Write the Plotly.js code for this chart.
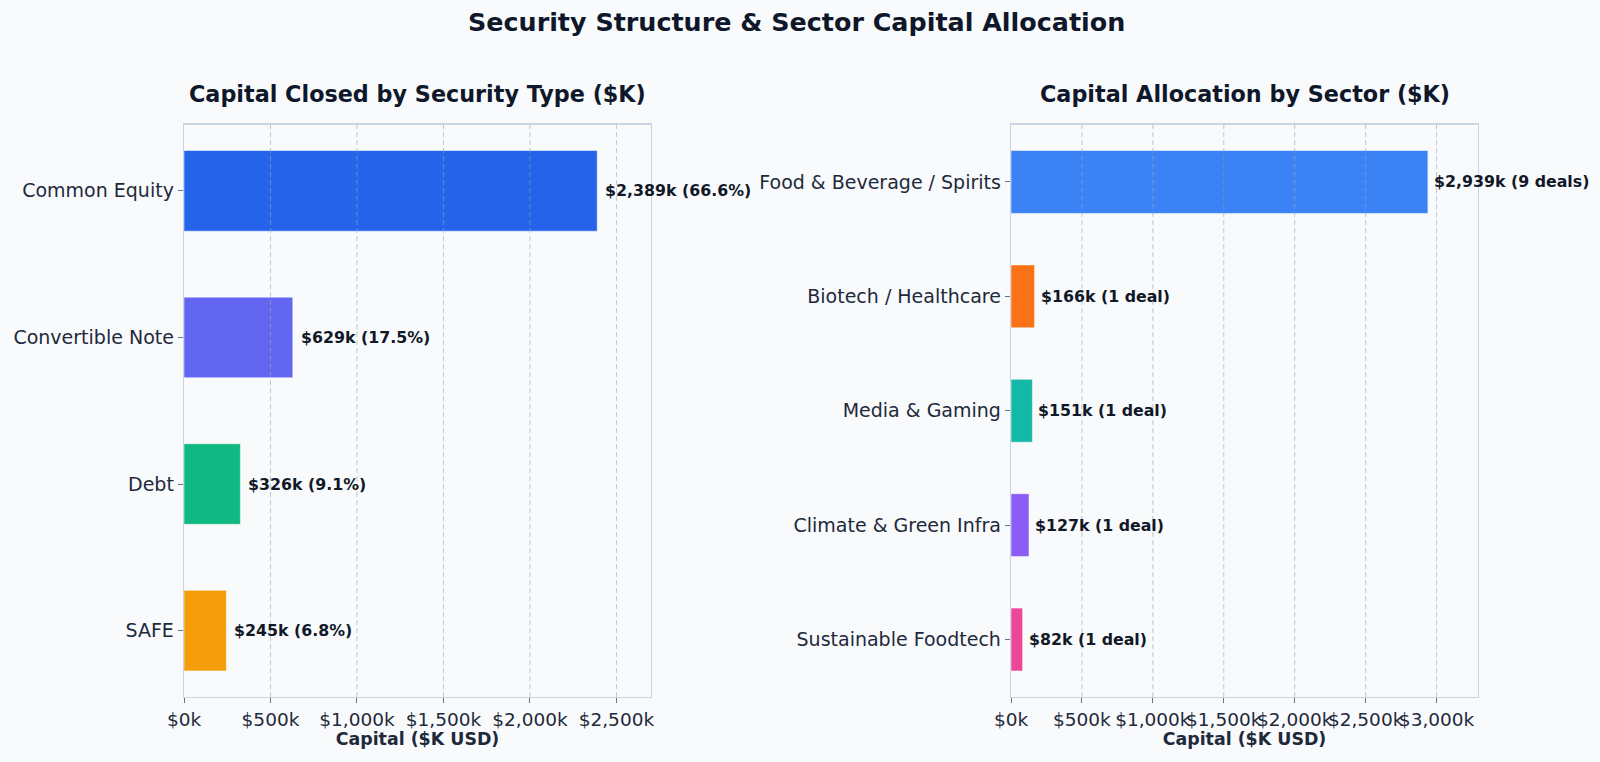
<!DOCTYPE html>
<html><head><meta charset="utf-8">
<script src="https://cdn.plot.ly/plotly-3.0.1.min.js"></script>
<style>html,body{margin:0;padding:0;background:#f8fafc;}#c{width:1600px;height:762px;}</style>
</head><body><div id="c"></div>
<script>
// Data
const secTypes = ["Common Equity", "Convertible Note", "Debt", "SAFE"];
const secValues = [2389, 629, 326, 245];
const secPct = ["66.6%", "17.5%", "9.1%", "6.8%"];
const secColors = ["#2563eb", "#6366f1", "#10b981", "#f59e0b"];

const sectors = ["Food & Beverage / Spirits", "Biotech / Healthcare", "Media & Gaming", "Climate & Green Infra", "Sustainable Foodtech"];
const sectorValues = [2939, 166, 151, 127, 82];
const sectorDeals = [9, 1, 1, 1, 1];
const sectorColors = ["#3b82f6", "#f97316", "#14b8a6", "#8b5cf6", "#ec4899"];

const xTicks1 = [0, 500, 1000, 1500, 2000, 2500];
const xTicks2 = [0, 500, 1000, 1500, 2000, 2500, 3000];

const fmt = v => "$" + v.toLocaleString("en-US") + "k";
const FONT = "DejaVu Sans, sans-serif";
const gridColor = "rgba(148,163,184,0.6)";
const W = 1600, H = 762;
const yDom = [65 / H, 637.5 / H];
const xDom1 = [184 / W, 651 / W];
const xDom2 = [1011 / W, 1478 / W];

const traces = [
  {type: "bar", orientation: "h", x: secValues, y: secTypes, xaxis: "x", yaxis: "y",
   width: 0.55, marker: {color: secColors, line: {color: "rgba(255,255,255,0.5)", width: 1}},
   hoverinfo: "x+y", showlegend: false},
  {type: "bar", orientation: "h", x: sectorValues, y: sectors, xaxis: "x2", yaxis: "y2",
   width: 0.55, marker: {color: sectorColors, line: {color: "rgba(255,255,255,0.5)", width: 1}},
   hoverinfo: "x+y", showlegend: false}
];

const annotations = [];
annotations.push({text: "<b>Security Structure & Sector Capital Allocation</b>", xref: "paper", yref: "paper",
  x: 0.4975, y: 1 - 22.5 / H, xanchor: "center", yanchor: "middle", showarrow: false,
  font: {family: FONT, size: 25.4, color: "#0f172a"}});
annotations.push({text: "<b>Capital Closed by Security Type ($K)</b>", xref: "paper", yref: "paper",
  x: (xDom1[0] + xDom1[1]) / 2, y: 1 - 94 / H, xanchor: "center", yanchor: "middle", showarrow: false,
  font: {family: FONT, size: 22.3, color: "#0f172a"}});
annotations.push({text: "<b>Capital Allocation by Sector ($K)</b>", xref: "paper", yref: "paper",
  x: (xDom2[0] + xDom2[1]) / 2, y: 1 - 94 / H, xanchor: "center", yanchor: "middle", showarrow: false,
  font: {family: FONT, size: 22.3, color: "#0f172a"}});

secValues.forEach((v, i) => annotations.push({
  text: "<b>" + fmt(v) + " (" + secPct[i] + ")</b>", x: v, y: secTypes[i], xref: "x", yref: "y",
  xanchor: "left", yanchor: "middle", xshift: 6, showarrow: false,
  font: {family: FONT, size: 15.8, color: "#111827"}}));
sectorValues.forEach((v, i) => annotations.push({
  text: "<b>" + fmt(v) + " (" + sectorDeals[i] + (sectorDeals[i] === 1 ? " deal" : " deals") + ")</b>",
  x: v, y: sectors[i], xref: "x2", yref: "y2",
  xanchor: "left", yanchor: "middle", xshift: 4, showarrow: false,
  font: {family: FONT, size: 15.8, color: "#111827"}}));

// grid lines drawn above bars (as in the reference)
const shapes = [];
xTicks1.slice(1).forEach(t => shapes.push({type: "line", xref: "x", yref: "y domain", x0: t, x1: t, y0: 0, y1: 1,
  line: {color: gridColor, width: 1, dash: "5px,3px"}, layer: "above"}));
xTicks2.slice(1).forEach(t => shapes.push({type: "line", xref: "x2", yref: "y2 domain", x0: t, x1: t, y0: 0, y1: 1,
  line: {color: gridColor, width: 1, dash: "5px,3px"}, layer: "above"}));

const axisCommon = {
  showline: true, linecolor: "#cbd5e1", linewidth: 1.3, mirror: true,
  ticks: "outside", ticklen: 5, tickcolor: "#64748b", tickwidth: 1,
  tickfont: {family: FONT, size: 18.5, color: "#1e293b"},
  zeroline: false, fixedrange: true, showgrid: false
};
const yTickFont = {family: FONT, size: 19, color: "#1e293b"};
const xTitle = {text: "<b>Capital ($K USD)</b>", font: {family: FONT, size: 17.4, color: "#1e293b"}, standoff: 3};

const layout = {
  width: W, height: H,
  paper_bgcolor: "#f8fafc", plot_bgcolor: "#f8fafc",
  margin: {l: 0, r: 0, t: 0, b: 0},
  bargap: 0,
  showlegend: false,
  xaxis: Object.assign({}, axisCommon, {domain: xDom1, anchor: "y", range: [0, 2700],
    tickvals: xTicks1, ticktext: xTicks1.map(fmt), tickangle: 0, title: xTitle}),
  yaxis: Object.assign({}, axisCommon, {domain: yDom, anchor: "x", type: "category",
    range: [3.4525, -0.4525], tickfont: yTickFont}),
  xaxis2: Object.assign({}, axisCommon, {domain: xDom2, anchor: "y2", range: [0, 3292],
    tickvals: xTicks2, ticktext: xTicks2.map(fmt), tickangle: 0, title: xTitle}),
  yaxis2: Object.assign({}, axisCommon, {domain: yDom, anchor: "x2", type: "category",
    range: [4.5025, -0.5025], tickfont: yTickFont}),
  annotations: annotations,
  shapes: shapes
};

Plotly.newPlot("c", traces, layout, {displayModeBar: false, staticPlot: true});
</script></body></html>
